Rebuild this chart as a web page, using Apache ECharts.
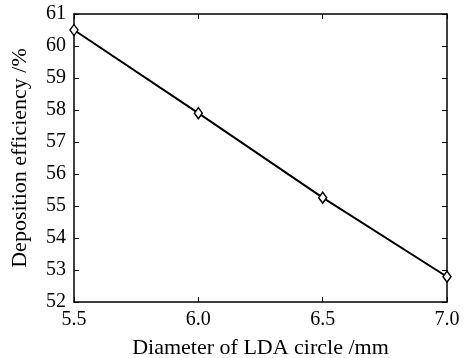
<!DOCTYPE html>
<html><head><meta charset="utf-8">
<script src="https://cdn.jsdelivr.net/npm/echarts@6/dist/echarts.min.js"></script>
<style>html,body{margin:0;padding:0;background:#fff}#c{width:474px;height:358px}</style>
</head><body><div id="c"></div>
<script>
const diameters = [5.5, 6.0, 6.5, 7.0];
const efficiency = [60.5, 57.9, 55.26, 52.79];
const xTicks = [5.5, 6.0, 6.5, 7.0];
const yTicks = [52, 53, 54, 55, 56, 57, 58, 59, 60, 61];

const font = '"Liberation Serif", "DejaVu Serif", serif';
const chart = echarts.init(document.getElementById('c'));
const axisLine = {show: true, lineStyle: {color: '#000', width: 1.5}};
const tick = {show: true, inside: true, length: 5, lineStyle: {color: '#000', width: 1}};
chart.setOption({
  animation: false,
  grid: {left: 74, right: 27, top: 14, bottom: 56, containLabel: false, outerBoundsMode: 'none'},
  xAxis: [{
    type: 'value', min: 5.5, max: 7.0, interval: 0.5,
    axisLine, axisTick: tick, splitLine: {show: false},
    axisLabel: {color: '#000', fontFamily: font, fontSize: 20, margin: 8,
      formatter: v => v.toFixed(1)},
    name: 'Diameter of LDA circle /mm', nameLocation: 'middle', nameGap: 35,
    nameTextStyle: {color: '#000', fontFamily: font, fontSize: 22}
  }, {
    type: 'value', position: 'top', min: 5.5, max: 7.0, interval: 0.5,
    axisLine, axisTick: tick, axisLabel: {show: false}, splitLine: {show: false}
  }],
  yAxis: [{
    type: 'value', min: 52, max: 61, interval: 1,
    axisLine, axisTick: tick, splitLine: {show: false},
    axisLabel: {color: '#000', fontFamily: font, fontSize: 20, margin: 8},
    name: 'Deposition efficiency /%', nameLocation: 'middle', nameGap: 43,
    nameTextStyle: {color: '#000', fontFamily: font, fontSize: 22}
  }, {
    type: 'value', position: 'right', min: 52, max: 61, interval: 1,
    axisLine, axisTick: tick, axisLabel: {show: false}, splitLine: {show: false}
  }],
  series: [{
    type: 'line', xAxisIndex: 0, yAxisIndex: 0,
    data: diameters.map((d, i) => [d, efficiency[i]]),
    symbol: 'diamond', symbolSize: [8, 11], showAllSymbol: true,
    lineStyle: {color: '#000', width: 2},
    itemStyle: {color: '#fff', borderColor: '#000', borderWidth: 1.5},
    clip: false
  }]
});
</script></body></html>
